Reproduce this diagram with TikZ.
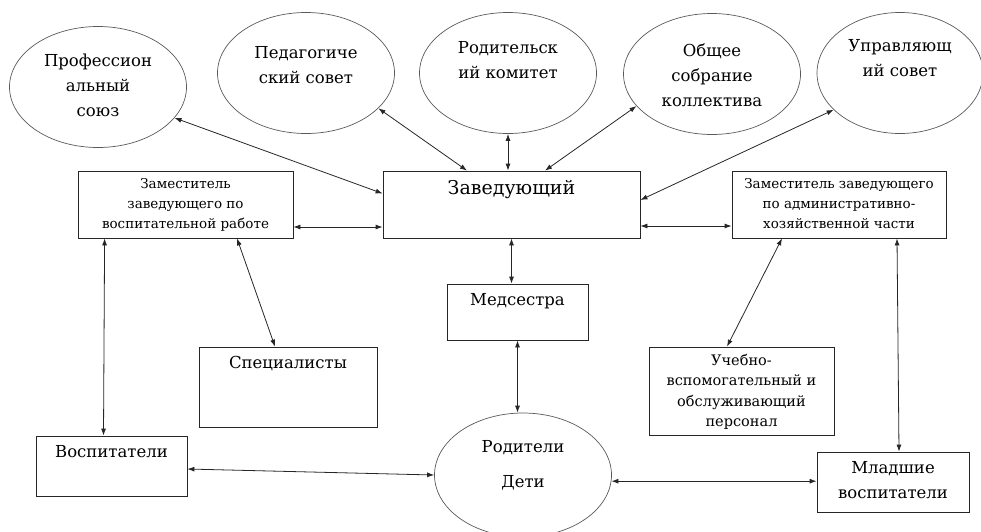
\documentclass[tikz,border=0pt]{standalone}
\usepackage{fontspec}
\setmainfont{DejaVu Serif}
\usetikzlibrary{shapes.geometric, arrows.meta, positioning}

\begin{document}
\begin{tikzpicture}[x=1pt, y=-1pt,
  council/.style={ellipse, draw=black!65, line width=0.7pt, minimum width=177pt, minimum height=121pt, inner sep=0pt},
  unit/.style 2 args={rectangle, draw=black!85, line width=0.8pt, inner sep=0pt, minimum width=#1, minimum height=#2},
  bigtext/.style={font=\fontsize{16.5}{25}\selectfont, align=center, inner sep=0pt},
  smalltext/.style={font=\fontsize{13.5}{20}\selectfont, align=center, inner sep=0pt},
  link/.style={{Latex[length=7pt,width=5pt]}-{Latex[length=7pt,width=5pt]}, line width=0.8pt, black!85}]
\useasboundingbox (0,0) rectangle (981,531);

% Councils on top
\node[council] (prof) at (98,87) {};
\node[bigtext, below=28pt of prof.north] (prof-t) {Профессион\\альный\\союз};
\node[council] (ped) at (306,73) {};
\node[bigtext, below=34pt of ped.north] (ped-t) {Педагогиче\\ский совет};
\node[council] (rod) at (508,73) {};
\node[bigtext, below=29pt of rod.north] (rod-t) {Родительск\\ий комитет};
\node[council] (obs) at (712,74) {};
\node[bigtext, below=30pt of obs.north] (obs-t) {Общее\\собрание\\коллектива};
\node[council, minimum width=166pt] (upr) at (900,73) {};
\node[bigtext, below=27pt of upr.north] (upr-t) {Управляющ\\ий совет};

% Administration
\node[unit={215pt}{67pt}] (zvr) at (185.5,204.5) {};
\node[smalltext, below=8pt of zvr.north] (zvr-t) {Заместитель\\заведующего по\\воспитательной работе};
\node[unit={257pt}{67pt}] (zav) at (511.5,204.5) {};
\node[bigtext, font=\fontsize{19}{25}\selectfont, below=10pt of zav.north] (zav-t) {Заведующий};
\node[unit={214pt}{67pt}] (zahch) at (839,204.5) {};
\node[smalltext, below=8pt of zahch.north] (zahch-t) {Заместитель заведующего\\по административно-\\хозяйственной части};

% Staff
\node[unit={141pt}{56pt}] (med) at (517.5,312) {};
\node[bigtext, below=10pt of med.north] (med-t) {Медсестра};
\node[unit={178pt}{80pt}] (spec) at (288,387) {};
\node[bigtext, below=9pt of spec.north] (spec-t) {Специалисты};
\node[unit={185pt}{88pt}] (uch) at (741.5,391) {};
\node[smalltext, font=\fontsize{14.5}{20.5}\selectfont, below=7pt of uch.north] (uch-t) {Учебно-\\вспомогательный и\\обслуживающий\\персонал};
\node[unit={151pt}{60pt}] (vosp) at (111.5,466) {};
\node[bigtext, below=10pt of vosp.north] (vosp-t) {Воспитатели};
\node[unit={152pt}{60pt}] (mlad) at (893,482) {};
\node[bigtext, below=10pt of mlad.north] (mlad-t) {Младшие\\воспитатели};
\node[council, minimum height=124pt] (rodi) at (523,475) {};
\node[bigtext, below=28pt of rodi.north] (rodi-t) {Родители\\[10pt]Дети};

% Links
\draw[link] (prof.-22) -- ([yshift=11pt]zav.west);
\draw[link] (ped.-26) -- ([xshift=-44.5pt]zav.north);
\draw[link] (rod.south) -- (rod.south |- zav.north);
\draw[link] (obs.203) -- ([xshift=33.5pt]zav.north);
\draw[link] (upr.209) -- ([yshift=4.5pt]zav.east);
\draw[link] ([yshift=-22.5pt]zvr.east) -- ([yshift=-22.5pt]zav.west);
\draw[link] ([yshift=-21.5pt]zav.east) -- ([yshift=-21.5pt]zahch.west);
\draw[link] (zav.south) -- (zav.south |- med.north);
\draw[link] (med.south) -- (med.south |- rodi.north);
\draw[link] ([xshift=27pt]zvr.south west) -- ([xshift=-8pt]vosp.north);
\draw[link] ([xshift=51.5pt]zvr.south) -- ([xshift=-13pt]spec.north);
\draw[link] ([xshift=-57pt]zahch.south) -- ([xshift=-14.5pt]uch.north);
\draw[link] ([xshift=58pt]zahch.south) -- ([xshift=6pt]mlad.north);
\draw[link] ([yshift=-3pt]vosp.east) -- (rodi.west);
\draw[link] (rodi.-4) -- (rodi.-4 -| mlad.west);
\end{tikzpicture}
\end{document}
